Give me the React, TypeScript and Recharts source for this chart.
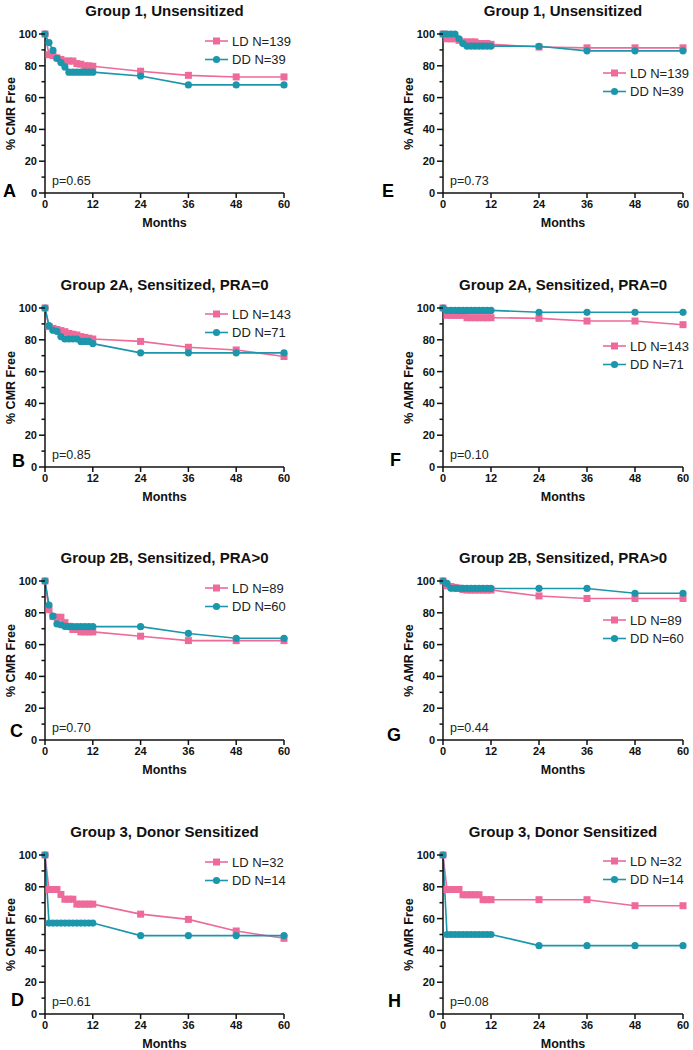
import { LineChart, Line, XAxis, YAxis, Legend } from 'recharts';

// months at which the curves carry a marker
const months = [0, 1, 2, 3, 4, 5, 6, 7, 8, 9, 10, 11, 12, 24, 36, 48, 60];
const xTicks = [0, 12, 24, 36, 48, 60];
const yTicks = [0, 10, 20, 30, 40, 50, 60, 70, 80, 90, 100];

// % CMR free
const cmr1Ld = [100, 87, 86.4, 85, 84, 83, 83, 83, 81.4, 81, 80, 80, 79.7, 76.6, 74, 73, 73];
const cmr1Dd = [100, 94.6, 89.7, 84.7, 82, 79.3, 76, 76, 76, 76, 76, 76, 76, 73.6, 68, 68, 68];
const cmr2aLd = [100, 88.3, 87.2, 86.5, 85.8, 85.1, 84, 83.5, 83, 82, 81.5, 81, 80.5, 79, 75.3, 73.6, 69.5];
const cmr2aDd = [100, 89, 86, 85.3, 82, 80.5, 80.5, 80.5, 80.5, 79, 79, 79, 77.6, 71.8, 71.8, 71.8, 71.8];
const cmr2bLd = [100, 82, 77.6, 77.2, 77.2, 73.8, 71.5, 69.5, 69.5, 68, 68, 68, 68, 65.3, 62.5, 62.5, 62.5];
const cmr2bDd = [100, 84.9, 78, 73, 72.5, 71.5, 71.3, 71.3, 71.3, 71.3, 71.3, 71.3, 71.3, 71.3, 67, 64, 64];
const cmr3Ld = [100, 78.3, 78.3, 78.3, 75.2, 72.2, 72.2, 72.2, 69.1, 69.1, 69.1, 69.1, 69.1, 62.8, 59.5, 52.2, 47.6];
const cmr3Dd = [100, 57.2, 57.2, 57.2, 57.2, 57.2, 57.2, 57.2, 57.2, 57.2, 57.2, 57.2, 57.2, 49.3, 49.3, 49.3, 49.3];

// % AMR free
const amr1Ld = [100, 97, 97, 97, 96, 95, 95, 95, 95, 94, 94, 94, 93.5, 91.8, 91.3, 91.3, 91.3];
const amr1Dd = [100, 100, 100, 100, 97, 94, 92.4, 92.4, 92.4, 92.4, 92.4, 92.4, 92.4, 92.3, 89.4, 89.4, 89.4];
const amr2aLd = [100, 95.4, 95.4, 95.4, 95.4, 95.4, 93.9, 93.9, 93.9, 93.9, 93.9, 93.9, 93.9, 93.5, 91.8, 91.8, 89.5];
const amr2aDd = [100, 98.5, 98.5, 98.5, 98.5, 98.5, 98.5, 98.5, 98.5, 98.5, 98.5, 98.5, 98.5, 97.3, 97.3, 97.3, 97.3];
const amr2bLd = [100, 97, 96.5, 96, 95.5, 94.6, 94.3, 94.3, 94.3, 94.3, 94.3, 94.3, 94.3, 90.6, 89, 89, 89];
const amr2bDd = [100, 98.5, 95.4, 95.3, 95.3, 95.3, 95.3, 95.3, 95.3, 95.3, 95.3, 95.3, 95.3, 95.3, 95.3, 92.3, 92.3];
const amr3Ld = [100, 78.3, 78.3, 78.3, 78.3, 75, 75, 75, 75, 75, 71.9, 71.9, 71.9, 71.9, 71.9, 68.1, 68.1];
const amr3Dd = [100, 50, 50, 50, 50, 50, 50, 50, 50, 50, 50, 50, 50, 43, 43, 43, 43];

const PINK = '#EE6A9B';
const TEAL = '#1C96AA';
const FONT = 'Arial, "Liberation Sans", sans-serif';

const PT = 34; // plot top inside panel
const PH = 159; // plot height
const PB = PT + PH;
const CH = 229; // chart height

const rowTops = [0, 274, 547, 821];

const cols = [
  { left: 0, width: 346, pl: 45, mr: 62 },
  { left: 346, width: 347, pl: 97, mr: 10 },
];

type PanelDef = {
  col: number; row: number; title: string; yLabel: string; letter: string; p: string;
  ld: number[]; dd: number[]; ldN: string; ddN: string;
  legY: number; letDx: number; letDy: number;
};

const panels: PanelDef[] = [
  { col: 0, row: 0, title: 'Group 1, Unsensitized', yLabel: '% CMR Free', letter: 'A', p: 'p=0.65', ld: cmr1Ld, dd: cmr1Dd, ldN: 'LD N=139', ddN: 'DD N=39', legY: 7, letDx: -42, letDy: 4 },
  { col: 0, row: 1, title: 'Group 2A, Sensitized, PRA=0', yLabel: '% CMR Free', letter: 'B', p: 'p=0.85', ld: cmr2aLd, dd: cmr2aDd, ldN: 'LD N=143', ddN: 'DD N=71', legY: 5.5, letDx: -33, letDy: 0 },
  { col: 0, row: 2, title: 'Group 2B, Sensitized, PRA>0', yLabel: '% CMR Free', letter: 'C', p: 'p=0.70', ld: cmr2bLd, dd: cmr2bDd, ldN: 'LD N=89', ddN: 'DD N=60', legY: 7, letDx: -35, letDy: -3 },
  { col: 0, row: 3, title: 'Group 3, Donor Sensitized', yLabel: '% CMR Free', letter: 'D', p: 'p=0.61', ld: cmr3Ld, dd: cmr3Dd, ldN: 'LD N=32', ddN: 'DD N=14', legY: 6.5, letDx: -34, letDy: -8 },
  { col: 1, row: 0, title: 'Group 1, Unsensitized', yLabel: '% AMR Free', letter: 'E', p: 'p=0.73', ld: amr1Ld, dd: amr1Dd, ldN: 'LD N=139', ddN: 'DD N=39', legY: 38.5, letDx: -61, letDy: 4 },
  { col: 1, row: 1, title: 'Group 2A, Sensitized, PRA=0', yLabel: '% AMR Free', letter: 'F', p: 'p=0.10', ld: amr2aLd, dd: amr2aDd, ldN: 'LD N=143', ddN: 'DD N=71', legY: 38, letDx: -53, letDy: -1 },
  { col: 1, row: 2, title: 'Group 2B, Sensitized, PRA>0', yLabel: '% AMR Free', letter: 'G', p: 'p=0.44', ld: amr2bLd, dd: amr2bDd, ldN: 'LD N=89', ddN: 'DD N=60', legY: 39, letDx: -56, letDy: 1 },
  { col: 1, row: 3, title: 'Group 3, Donor Sensitized', yLabel: '% AMR Free', letter: 'H', p: 'p=0.08', ld: amr3Ld, dd: amr3Dd, ldN: 'LD N=32', ddN: 'DD N=14', legY: 6, letDx: -55, letDy: -7 },
];

function YTick({ x, y, payload }: any) {
  const major = payload.value % 20 === 0;
  return (
    <g>
      <line x1={x} x2={x - (major ? 6 : 3.5)} y1={y} y2={y} stroke="#111" strokeWidth={1.5} />
      {major && (
        <text x={x - 8} y={y} dy="0.36em" textAnchor="end" fontSize={11} fontWeight="bold" fill="#111" fontFamily={FONT}>
          {payload.value}
        </text>
      )}
    </g>
  );
}

const squareDot = (props: any) => (
  <rect key={`sq-${props.index}`} x={props.cx - 3.5} y={props.cy - 3.5} width={7} height={7} fill={PINK} />
);

function LegendBox({ ldN, ddN }: { ldN: string; ddN: string }) {
  const rows = [
    { label: ldN, color: PINK, square: true },
    { label: ddN, color: TEAL, square: false },
  ];
  return (
    <svg width={120} height={40} style={{ display: 'block', overflow: 'visible' }}>
      {rows.map((r, i) => {
        const cy = 9 + i * 18.5;
        return (
          <g key={r.label}>
            <line x1={2} x2={25} y1={cy} y2={cy} stroke={r.color} strokeWidth={1.6} />
            {r.square ? (
              <rect x={10} y={cy - 3.5} width={7} height={7} fill={r.color} />
            ) : (
              <circle cx={13.5} cy={cy} r={3.6} fill={r.color} />
            )}
            <text x={29} y={cy} dy="0.36em" fontSize={13} fill="#222" fontFamily={FONT}>{r.label}</text>
          </g>
        );
      })}
    </svg>
  );
}

function Panel({ def }: { def: PanelDef }) {
  const c = cols[def.col];
  const top = rowTops[def.row];
  const pw = c.width - c.pl - c.mr;
  const data = months.map((m, i) => ({ month: m, ld: def.ld[i], dd: def.dd[i] }));
  return (
    <div style={{ position: 'absolute', left: c.left, top, width: c.width, height: CH }}>
      <LineChart width={c.width} height={CH} data={data} margin={{ top: PT, right: c.mr, bottom: CH - PB - 30, left: c.pl - 40 }}>
        <XAxis
          dataKey="month"
          type="number"
          domain={[0, 60]}
          ticks={xTicks}
          interval={0}
          height={30}
          tickSize={5}
          tickMargin={2}
          axisLine={{ stroke: '#111', strokeWidth: 1.5 }}
          tickLine={{ stroke: '#111', strokeWidth: 1.5 }}
          tick={{ fontSize: 11, fontWeight: 'bold', fill: '#111', fontFamily: FONT }}
        />
        <YAxis
          type="number"
          domain={[0, 100]}
          ticks={yTicks}
          interval={0}
          width={40}
          tickSize={0}
          tickMargin={0}
          tickLine={false}
          axisLine={{ stroke: '#111', strokeWidth: 1.5 }}
          tick={<YTick />}
        />
        <Legend
          layout="horizontal"
          verticalAlign="middle"
          align="center"
          wrapperStyle={{ position: 'absolute', left: c.pl + 158, top: PT + def.legY - 9, width: 120, height: 40 }}
          content={() => <LegendBox ldN={def.ldN} ddN={def.ddN} />}
        />
        <Line type="linear" dataKey="ld" stroke={PINK} strokeWidth={1.6} dot={squareDot} isAnimationActive={false} />
        <Line type="linear" dataKey="dd" stroke={TEAL} strokeWidth={1.6} dot={{ r: 3.6, fill: TEAL, stroke: 'none' }} isAnimationActive={false} />
      </LineChart>
      <svg width={c.width} height={CH + 12} style={{ position: 'absolute', left: 0, top: 0, pointerEvents: 'none', overflow: 'visible' }} fontFamily={FONT}>
        <text x={c.pl + pw / 2} y={15.5} textAnchor="middle" fontSize={15} fontWeight="bold" fill="#111">{def.title}</text>
        <text
          x={c.pl - 35}
          y={PT + PH / 2}
          transform={`rotate(-90 ${c.pl - 35} ${PT + PH / 2})`}
          textAnchor="middle"
          dy="0.36em"
          fontSize={12.5}
          fontWeight="bold"
          fill="#111"
        >
          {def.yLabel}
        </text>
        <text x={c.pl + pw / 2} y={227} textAnchor="middle" fontSize={12.5} fontWeight="bold" fill="#111">Months</text>
        <text x={c.pl + 7} y={PB - 8} fontSize={12.5} fill="#222">{def.p}</text>
        <text x={c.pl + def.letDx} y={PB + def.letDy} fontSize={18} fontWeight="bold" fill="#000">{def.letter}</text>
      </svg>
    </div>
  );
}

export default function App() {
  return (
    <div style={{ position: 'absolute', left: 0, top: 0, width: 693, height: 1050, background: '#fff', fontFamily: FONT }}>
      {panels.map((d) => (
        <Panel key={d.letter} def={d} />
      ))}
    </div>
  );
}
